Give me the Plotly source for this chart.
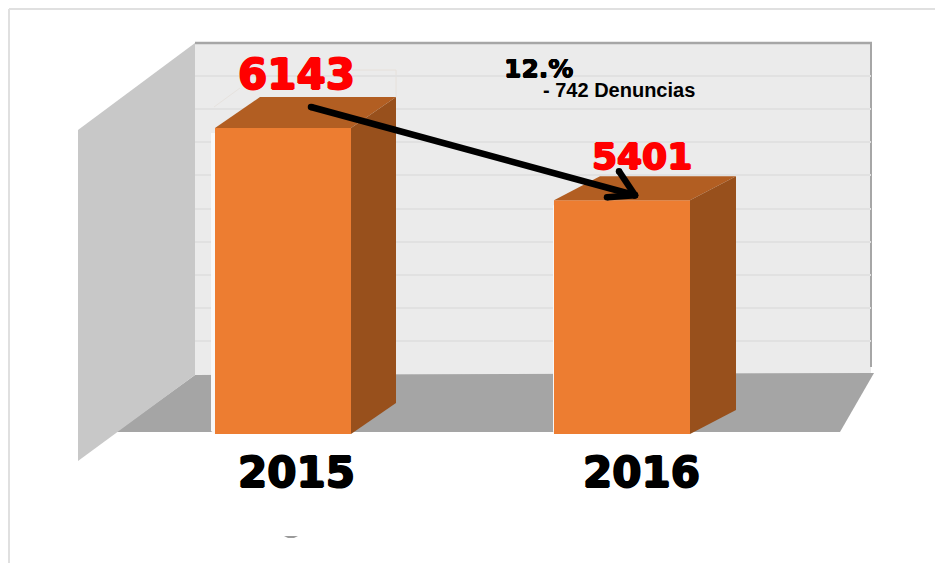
import plotly.graph_objects as go

W, H = 935, 563

# Data
years = [2015, 2016]
denuncias = [6143, 5401]
axis_base = 3000
grid_step = 340
change_pct = "12.%"
change_note = "- 742 Denuncias"

# Chart geometry (pixels)
BAR_W = 136
CENTER = [283, 622]
BASE_PX = 434
TOP_PX_FIRST = 128
DEPTH_X = [45, 46]
DEPTH_Y = [31, 24]
HALO = [4, 1]
LABEL_SHIFT = [(13, 54), (20, 44)]
LABEL_SIZE = [42, 36]
TICK_SHIFT = [13, 19]

ppu_y = (BASE_PX - TOP_PX_FIRST) / (denuncias[0] - axis_base)
ppu_x = CENTER[1] - CENTER[0]
x2_range = [years[0] - CENTER[0] / ppu_x, years[0] + (W - CENTER[0]) / ppu_x]
y2_range = [axis_base - (H - BASE_PX) / ppu_y, axis_base + BASE_PX / ppu_y]


def dx(px):
    return px / ppu_x


def dy(px):
    return px / ppu_y


def heavy(color, r=1):
    return f"{r}px 0 0 {color},-{r}px 0 0 {color},0 {r}px 0 {color},0 -{r}px 0 {color}"


def poly(points):
    return "M" + " L".join(f"{x / W:.5f},{1 - y / H:.5f}" for x, y in points) + " Z"


def paper_shape(points, color):
    return dict(type="path", xref="paper", yref="paper", path=poly(points),
                fillcolor=color, line=dict(width=0), layer="below")


def paper_line(x0, y0, x1, y1, color, width):
    return dict(type="line", xref="paper", yref="paper", x0=x0 / W, x1=x1 / W,
                y0=1 - y0 / H, y1=1 - y1 / H, line=dict(color=color, width=width), layer="below")


fig = go.Figure()

# Back-wall subplot: carries the gridlines
fig.add_trace(go.Scatter(x=[0, 1], y=[axis_base, axis_base], mode="lines",
                         line=dict(width=0), hoverinfo="skip", showlegend=False,
                         xaxis="x", yaxis="y"))

half = dx(BAR_W / 2)
for i, (yr, val) in enumerate(zip(years, denuncias)):
    ddx, ddy = dx(DEPTH_X[i]), dy(DEPTH_Y[i])
    # white halo to the left of the bar
    hx = dx(HALO[i])
    fig.add_trace(go.Scatter(
        x=[yr - half - hx, yr - half, yr - half, yr - half - hx],
        y=[axis_base + dy(3), axis_base, val - dy(5), val - dy(5)],
        fill="toself", fillcolor="#f8f8f8", mode="lines", line=dict(width=0),
        hoverinfo="skip", showlegend=False, xaxis="x2", yaxis="y2"))
    # top face
    fig.add_trace(go.Scatter(
        x=[yr - half, yr - half + ddx, yr + half + ddx, yr + half],
        y=[val, val + ddy, val + ddy, val],
        fill="toself", fillcolor="#b25e22", mode="lines", line=dict(width=0),
        hoverinfo="skip", showlegend=False, xaxis="x2", yaxis="y2"))
    # side face
    fig.add_trace(go.Scatter(
        x=[yr + half, yr + half + ddx, yr + half + ddx, yr + half],
        y=[val, val + ddy, axis_base + ddy, axis_base],
        fill="toself", fillcolor="#98501c", mode="lines", line=dict(width=0),
        hoverinfo="skip", showlegend=False, xaxis="x2", yaxis="y2"))

# Front faces
fig.add_trace(go.Bar(x=years, y=[v - axis_base for v in denuncias], base=axis_base,
                     width=BAR_W / ppu_x, marker=dict(color="#ed7d31", line=dict(width=0)),
                     hoverinfo="skip", showlegend=False, xaxis="x2", yaxis="y2"))

# Arrow between the two bar tops
ax0, ay0 = years[0] + dx(28), denuncias[0] + dy(21)
ax1, ay1 = years[1] + dx(13), denuncias[1] + dy(5)
arrow_paths = [
    ([ax0, ax1], [ay0, ay1]),
    ([ax1 - dx(16), ax1], [ay1 + dy(24), ay1]),
    ([ax1 - dx(28), ax1], [ay1 - dy(2), ay1]),
]
for xs, ys in arrow_paths:
    fig.add_trace(go.Scatter(x=xs, y=ys, mode="lines+markers",
                             line=dict(color="black", width=6.5),
                             marker=dict(color="black", size=6.5),
                             hoverinfo="skip", showlegend=False, xaxis="x2", yaxis="y2"))

annotations = []
for i, (yr, val) in enumerate(zip(years, denuncias)):
    annotations.append(dict(text=str(val), x=yr, y=val, xref="x2", yref="y2",
                            xshift=LABEL_SHIFT[i][0], yshift=LABEL_SHIFT[i][1],
                            showarrow=False, xanchor="center", yanchor="middle",
                            font=dict(family="DejaVu Sans", size=LABEL_SIZE[i], color="#ff0000",
                                      weight=700, shadow=heavy("#ff0000"))))
    annotations.append(dict(text=str(yr), x=yr, y=axis_base, xref="x2", yref="y2",
                            xshift=TICK_SHIFT[i], yshift=-38,
                            showarrow=False, xanchor="center", yanchor="middle",
                            font=dict(family="DejaVu Sans", size=42, color="black",
                                      weight=700, shadow=heavy("#000000"))))
annotations.append(dict(text=change_pct, x=538 / W, y=1 - 68 / H, xref="paper", yref="paper",
                        showarrow=False, xanchor="center", yanchor="middle",
                        font=dict(family="DejaVu Sans", size=25, color="black",
                                  weight=700, shadow=heavy("#000000", 0.5))))
annotations.append(dict(text=change_note, x=619 / W, y=1 - 90 / H, xref="paper", yref="paper",
                        showarrow=False, xanchor="center", yanchor="middle",
                        font=dict(family="Liberation Sans", size=20, color="black", weight=700)))

shapes = [
    # back wall
    paper_shape([(195, 43), (871, 43), (871, 375), (195, 375)], "#ebebeb"),
    # floor
    paper_shape([(195, 375), (874, 373), (840, 432), (116, 432)], "#a5a5a5"),
    # left wall
    paper_shape([(78, 130), (195, 43), (195, 375), (78, 461)], "#c8c8c8"),
    # outer frame
    paper_line(9, 9, 935, 9, "#e0e0e0", 2),
    paper_line(9, 9, 9, 563, "#e0e0e0", 2),
    # wall borders
    paper_line(195, 43, 872, 43, "#a6a6a6", 2.5),
    paper_line(871, 43, 871, 367, "#a6a6a6", 2),
    # faint outline behind the first bar
    paper_line(352, 70, 396, 70, "#e6e0da", 1),
    paper_line(396, 70, 396, 97, "#e6e0da", 1),
    paper_line(214, 107, 240, 88, "#e6e2de", 1),
    # stray mark in the source picture
    paper_shape([(284, 536), (298, 536), (294, 538), (288, 538)], "#9a9a9a"),
]

fig.update_layout(
    width=W, height=H,
    margin=dict(l=0, r=0, t=0, b=0),
    paper_bgcolor="white", plot_bgcolor="rgba(0,0,0,0)",
    showlegend=False,
    shapes=shapes,
    annotations=annotations,
    xaxis=dict(domain=[195 / W, 871 / W], range=[0, 1], visible=False, fixedrange=True),
    yaxis=dict(domain=[1 - 374 / H, 1 - 43 / H], range=[axis_base, axis_base + 10 * grid_step],
               tick0=axis_base, dtick=grid_step, showgrid=True, gridcolor="#e1e1e1", gridwidth=2,
               showticklabels=False, ticks="", zeroline=False, showline=False, fixedrange=True),
    xaxis2=dict(domain=[0, 1], range=x2_range, anchor="y2", visible=False, fixedrange=True),
    yaxis2=dict(domain=[0, 1], range=y2_range, anchor="x2", visible=False, fixedrange=True),
)

fig.write_html("out.html", config=dict(displayModeBar=False),
               post_script="document.body.style.margin='0';")
